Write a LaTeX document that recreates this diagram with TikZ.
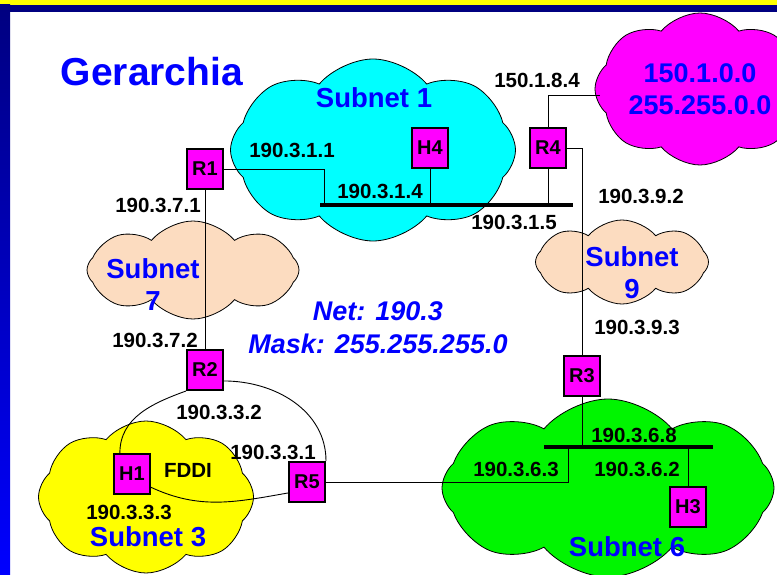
\documentclass[tikz,border=0pt]{standalone}
\usepackage{fontspec}
\setmainfont{Liberation Sans}
\usepackage{tikz}
\usetikzlibrary{shapes.symbols}
\definecolor{navy}{RGB}{0,0,128}
\definecolor{netblue}{RGB}{0,0,255}
\definecolor{peach}{RGB}{252,220,192}
\definecolor{lime}{RGB}{0,245,0}
\definecolor{aqua}{RGB}{0,255,255}
\definecolor{pink}{RGB}{255,0,255}
\definecolor{lemon}{RGB}{255,255,0}

\tikzset{
  box/.style={draw=black, line width=2pt, fill=pink, minimum width=36pt,
    minimum height=40pt, inner sep=0pt, font=\bfseries\fontsize{20}{20}\selectfont},
  addr/.style={inner sep=0pt, font=\bfseries\fontsize{20.5}{20.5}\selectfont},
  netlabel/.style={text=netblue, inner sep=0pt, align=center,
    font=\bfseries\fontsize{27.5}{32}\selectfont},
  subnet/.style={cloud, cloud puffs=8, cloud puff arc=100, cloud ignores aspect,
    draw=black, line width=0.8pt, inner sep=0pt},
  link/.style={draw=black, line width=0.9pt},
  bus/.style={draw=black, line width=4pt}
}

\begin{document}
\begin{tikzpicture}[x=1pt,y=-1pt]
\useasboundingbox (0,0) rectangle (777,575);
\fill[white] (0,0) rectangle (777,575);
\fill[lemon] (0,0) rectangle (777,5);
\fill[navy] (0,5) rectangle (777,12);
\shade[top color=navy, bottom color=netblue] (0,5) rectangle (10,575);

\begin{scope}
\clip (10,12) rectangle (777,575);
\node[subnet, fill=aqua, minimum width=285pt, minimum height=182pt] (sub1) at (373,150) {};
\node[subnet, fill=pink, minimum width=210pt, minimum height=152pt, netlabel,
  font=\bfseries\fontsize{27}{32}\selectfont] (net150) at (700,89) {150.1.0.0\\255.255.0.0};
\node[subnet, fill=peach, minimum width=212pt, minimum height=98pt] (sub7) at (193,270) {};
\node[subnet, fill=peach, minimum width=173pt, minimum height=84pt] (sub9) at (622,262) {};
\node[subnet, fill=lemon, minimum width=215pt, minimum height=152pt] (sub3) at (146,497) {};
\node[subnet, fill=lime, minimum width=332pt, minimum height=178pt] (sub6) at (608,488) {};
\end{scope}

\coordinate (b1w) at (320,205);
\coordinate (b1e) at (573,205);
\coordinate (t1) at (324,205);
\coordinate (t150) at (600,95);
\coordinate (b6w) at (544,447);
\coordinate (b6e) at (713,447);
\coordinate (t6) at (568,447);

\node[box] (R1) at (205,169) {R1};
\node[box] (H4) at (430,148) {H4};
\node[box] (R4) at (548,148) {R4};
\node[box] (R2) at (205,370) {R2};
\node[box] (R3) at (582,376) {R3};
\node[box] (H1) at (132,474) {H1};
\node[box] (R5) at (307,482) {R5};
\node[box] (H3) at (688,507) {H3};

\draw[bus] (b1w) -- (b1e);
\draw[bus] (b6w) -- (b6e);
\draw[link] (R1.east) -| (t1);
\draw[link] (H4.south) -- (H4.south |- b1w);
\draw[link] (R4.south) -- (R4.south |- b1w);
\draw[link] (R4.north) |- (t150);
\draw[link] (R4.east) -| (R3.north);
\draw[link] (R3.south) -- (R3.south |- b6w);
\draw[link] (R5.east) -| (t6);
\draw[link] (H3.north) -- (H3.north |- b6w);
\draw[link] (R1.south) -- (R2.north);
\draw[link] (R2.-30) to[out=0,in=90] (R5.north east);
\draw[link] (R5.210) to[out=190,in=-25] (H1.-35);
\draw[link] (H1.120) to[out=90,in=200] (R2.south west);

\node[text=netblue, font=\bfseries\fontsize{39}{39}\selectfont] (title) at (152,72) {Gerarchia};
\node[netlabel] (l1) at (374,98) {Subnet 1};
\node[netlabel] (l7) at (153,285) {Subnet\\7};
\node[netlabel] (l9) at (632,273) {Subnet\\9};
\node[netlabel] (l3) at (148,537) {Subnet 3};
\node[netlabel] (l6) at (627,547) {Subnet 6};
\node[netlabel, font=\bfseries\itshape\fontsize{27}{33}\selectfont] (mask) at (378,328)
  {Net: 190.3\\Mask: 255.255.255.0};

\node[addr] (a111) at (292,150) {190.3.1.1};
\node[addr] (a114) at (380,191) {190.3.1.4};
\node[addr] (a115) at (514,222) {190.3.1.5};
\node[addr] (a184) at (537,80) {150.1.8.4};
\node[addr] (a192) at (641,196) {190.3.9.2};
\node[addr] (a193) at (637,327) {190.3.9.3};
\node[addr] (a171) at (158,205) {190.3.7.1};
\node[addr] (a172) at (155,340) {190.3.7.2};
\node[addr] (a132) at (219,412) {190.3.3.2};
\node[addr] (a131) at (273,452) {190.3.3.1};
\node[addr] (fddi) at (188,470) {FDDI};
\node[addr] (a133) at (129,512) {190.3.3.3};
\node[addr] (a168) at (634,435) {190.3.6.8};
\node[addr] (a163) at (516,469) {190.3.6.3};
\node[addr] (a162) at (637,469) {190.3.6.2};
\end{tikzpicture}
\end{document}
